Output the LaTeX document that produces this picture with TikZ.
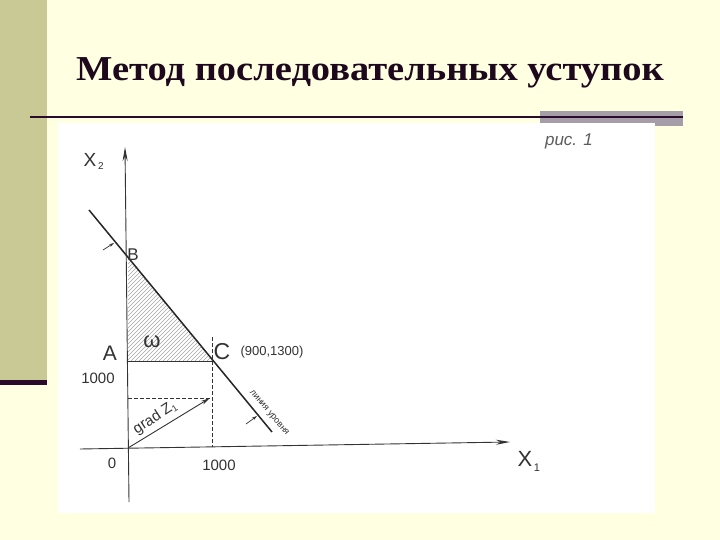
\documentclass[tikz,border=0pt]{standalone}
\usepackage{fontspec}
\setmainfont{Liberation Sans}
\newfontfamily\titlefont{Liberation Serif}
\usetikzlibrary{arrows.meta}
\definecolor{bgyellow}{HTML}{FFFFE2}
\definecolor{oliv}{HTML}{C9C996}
\definecolor{darkbar}{HTML}{2B0B2B}
\definecolor{greybar}{HTML}{A59DA8}
\definecolor{titlecol}{HTML}{1E081E}
\definecolor{pencil}{HTML}{333333}
\tikzset{
  titlestyle/.style={font=\titlefont\bfseries\fontsize{35}{38}\selectfont, text=titlecol, inner sep=0pt, xscale=1.1},
  axisline/.style={draw=pencil, line width=0.9pt, -{Stealth[length=14pt,width=5pt]}},
  levelline/.style={draw=black!85, line width=1.5pt},
  thinline/.style={draw=pencil, line width=0.9pt},
  dashline/.style={draw=pencil, line width=0.6pt, dash pattern=on 4pt off 2pt},
  hatchline/.style={draw=gray!70, line width=0.5pt},
  gradarrow/.style={draw=pencil, line width=0.9pt, -{Stealth[length=9pt,width=4pt]}},
  smallarrow/.style={draw=pencil, line width=0.7pt, -{Stealth[length=5pt,width=3pt]}},
  lbl/.style={text=pencil, inner sep=0pt},
}
\begin{document}
\begin{tikzpicture}[x=1pt,y=-1pt]
\useasboundingbox (0,0) rectangle (720,540);
\fill[bgyellow] (0,0) rectangle (720,540);
\fill[oliv] (0,0) rectangle (47,380);
\fill[darkbar] (0,380) rectangle (47,385);
\node[titlestyle, anchor=base] (title) at (370,81) {Метод последовательных уступок};
\fill[greybar] (540,111) rectangle (683,126);
\coordinate (HL) at (30,117);
\coordinate (HR) at (683,117);
\draw[line width=2.5pt, darkbar] (HL) -- (HR);
\fill[white] (58,123) rectangle (655,513);

% coordinates
\coordinate (O) at (128,448);
\coordinate (Ytop) at (125,147);
\coordinate (Ybot) at (129,502);
\coordinate (Xleft) at (80,449);
\coordinate (Xright) at (510,442);
\coordinate (A) at (128,361);
\coordinate (B) at (128,258);
\coordinate (C) at (212,361);
\coordinate (Ls) at (89,210);
\coordinate (Le) at (272,432);
\coordinate (Dt) at (212,337);
\coordinate (Db) at (212,447);
\coordinate (Gy) at (128,398);
\coordinate (G) at (210,398);

% hatching
\begin{scope}
\clip (A) -- (B) -- (C) -- cycle;
\foreach \i in {0,4,...,220} \draw[hatchline] (\i,372) -- ++(130,-130);
\end{scope}

\draw[axisline] (Ybot) -- (Ytop);
\draw[axisline] (Xleft) -- (Xright);
\draw[levelline] (Ls) -- (Le);
\draw[thinline] (A) -- (C);
\draw[dashline] (Dt) -- (Db);
\draw[dashline] (Gy) -- (G);
\draw[gradarrow] (O) -- (G);

\coordinate (t1s) at (103,250);
\coordinate (t1e) at (114,243);
\coordinate (t2s) at (246,424);
\coordinate (t2e) at (257,416);
\draw[smallarrow] (t1s) -- (t1e);
\draw[smallarrow] (t2s) -- (t2e);

% labels
\node[lbl, font=\fontsize{19}{20}\selectfont] (x2) at (90,160) {X};
\node[lbl, font=\fontsize{10}{10}\selectfont] (x2s) at (101,166) {2};
\node[lbl, font=\fontsize{22}{22}\selectfont] (x1) at (525,459) {X};
\node[lbl, font=\fontsize{11}{11}\selectfont] (x1s) at (537,468) {1};
\node[lbl, font=\fontsize{15}{15}\selectfont] (zero) at (112,463) {0};
\node[lbl, font=\fontsize{15}{15}\selectfont] (k1000x) at (219,465) {1000};
\node[lbl, font=\fontsize{15}{15}\selectfont] (k1000y) at (98,378) {1000};
\node[lbl, font=\fontsize{21}{21}\selectfont] (lA) at (110,353) {A};
\node[lbl, font=\fontsize{17}{17}\selectfont] (lB) at (133,255) {B};
\node[lbl, font=\fontsize{23}{23}\selectfont] (lC) at (222,352) {C};
\node[lbl, font=\fontsize{13}{13}\selectfont] (coordC) at (272,352) {(900,1300)};
\node[lbl, font=\fontsize{22}{22}\selectfont] (omega) at (152,342) {ω};
\node[lbl, font=\itshape\fontsize{17}{17}\selectfont, text=pencil!80] (ris) at (569,141) {рис. 1};
\node[lbl, font=\fontsize{15}{15}\selectfont, rotate=33] (grad) at (155,418) {grad Z\raisebox{-2pt}{\fontsize{9}{9}\selectfont 1}};
\node[lbl, font=\fontsize{9}{9}\selectfont, rotate=-50] (lvl) at (269,413) {линия уровня};
\end{tikzpicture}
\end{document}
